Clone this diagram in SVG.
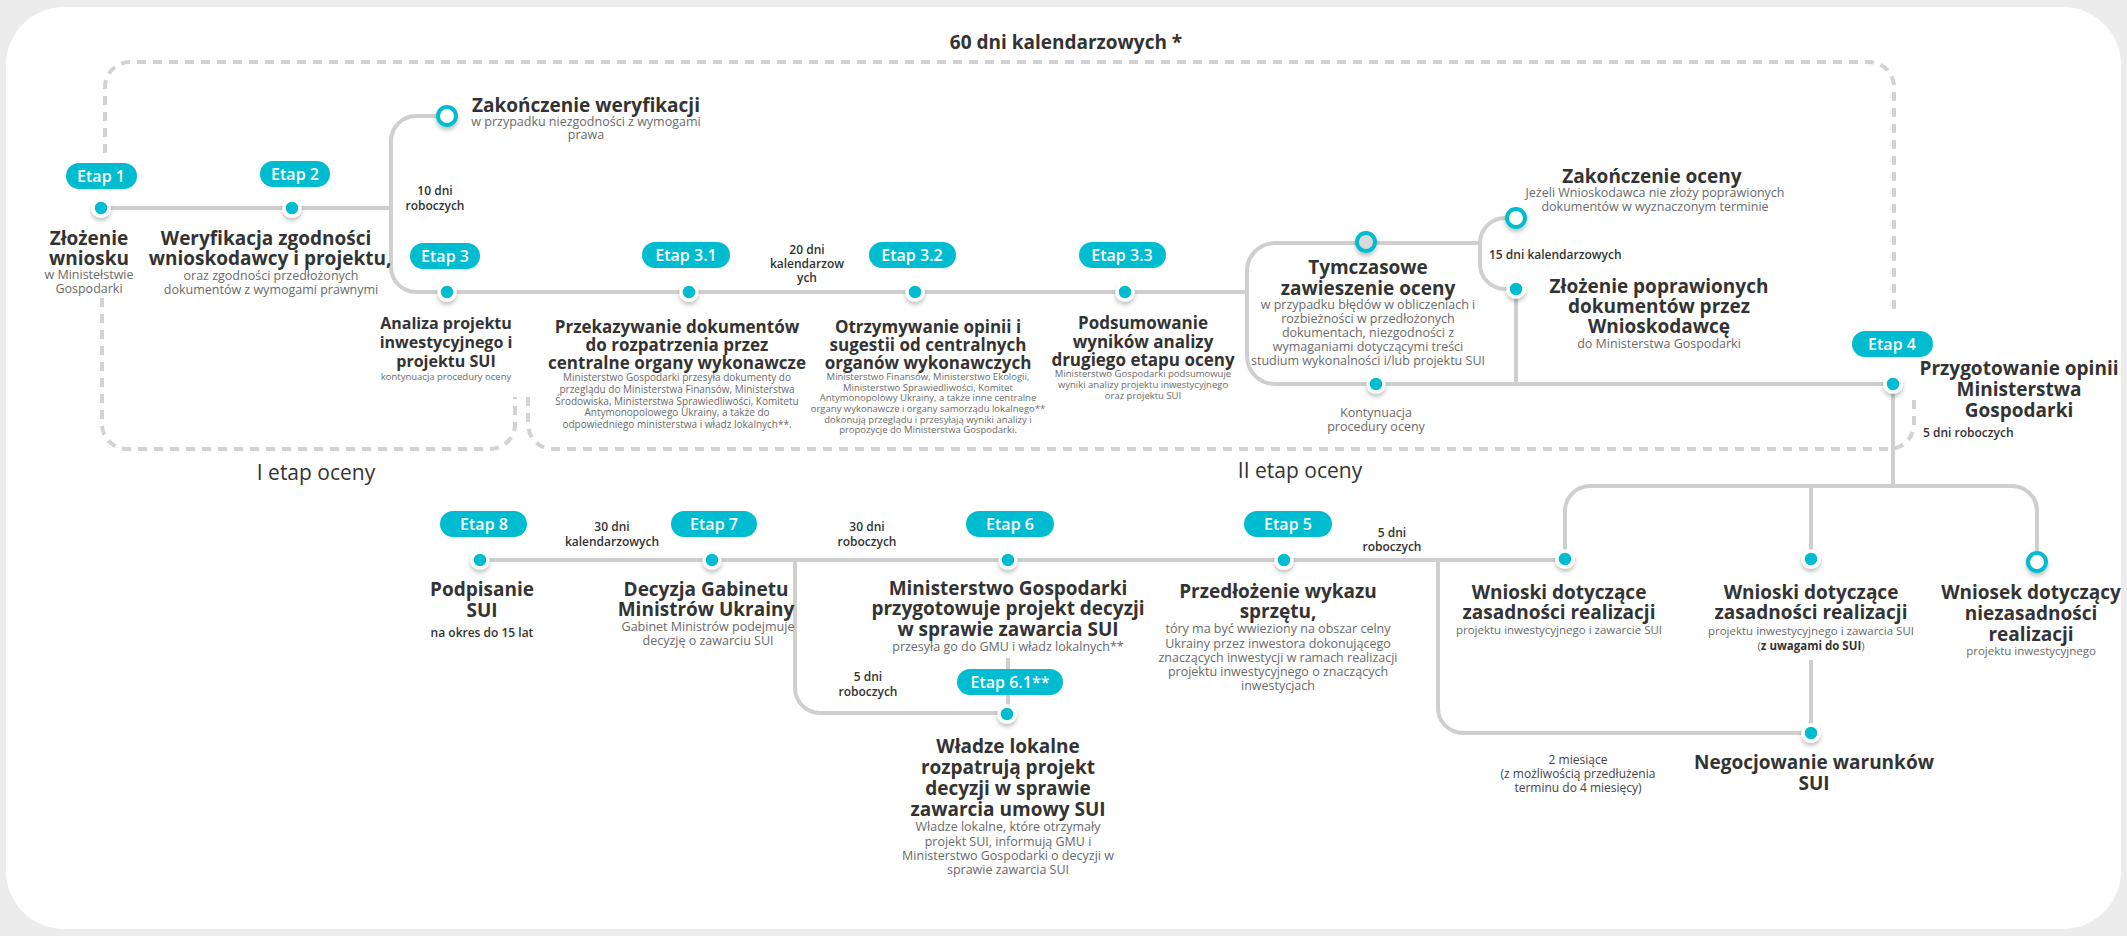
<svg xmlns="http://www.w3.org/2000/svg" width="2127" height="936" viewBox="0 0 2127 936">
<defs>
<filter id="sh" x="-60%" y="-60%" width="220%" height="240%">
<feDropShadow dx="0" dy="3" stdDeviation="2" flood-color="#000" flood-opacity="0.25"/>
</filter>
<style>
text{font-family:"Open Sans","Noto Sans",sans-serif;text-anchor:middle}
.t{font-size:19px;font-weight:700;fill:#333}
.t3{font-size:17px;font-weight:700;fill:#333}
.d{font-size:12.5px;font-weight:400;fill:#6a6a6a}
.d2{font-size:11.5px;font-weight:400;fill:#6a6a6a}
.ds{font-size:10px;font-weight:400;fill:#6a6a6a}
.ds9{font-size:9.5px;font-weight:400;fill:#6a6a6a}
.n{font-size:12px;font-weight:600;fill:#333}
.m{font-size:12px;font-weight:400;fill:#444}
.h{font-size:21px;font-weight:500;fill:#333}
.bt{font-size:16px;font-weight:600;fill:#fff}
.bg{fill:#00bcd0}
.dot{fill:#00bcd0;stroke:#fff;stroke-width:3.5;filter:url(#sh)}
.ho{fill:#fff;stroke:#00bcd0;stroke-width:4;filter:url(#sh)}
.gr{fill:#d9d9d9;stroke:#00bcd0;stroke-width:4;filter:url(#sh)}
.ln{fill:none;stroke:#cfcfcf;stroke-width:4}
.da{fill:none;stroke:#d2d2d2;stroke-width:4;stroke-dasharray:9 7}
</style>
</defs>
<rect x="0" y="0" width="2127" height="936" fill="#ececec"/>
<rect x="6" y="7" width="2115" height="922" rx="58" fill="#fff"/>

<g id="connectors">
<path class="da" d="M105,153 V87 A25,25 0 0 1 130,62 H1869 A25,25 0 0 1 1894,87 V315"/>
<path class="da" d="M102,298 V424 A25,25 0 0 0 127,449 H490 A25,25 0 0 0 515,424 V397"/>
<path class="da" d="M528,397 V424 A25,25 0 0 0 553,449 H1889 A25,25 0 0 0 1914,424 V397"/>
<path class="ln" d="M101,208 H391"/>
<path class="ln" d="M447,116 H416 A25,25 0 0 0 391,141 V267 A25,25 0 0 0 416,292 H1247"/>
<path class="ln" d="M1480,243 H1275 A28,28 0 0 0 1247,271 V356 A28,28 0 0 0 1275,384 H1893"/>
<path class="ln" d="M1516,218 H1505 A25,25 0 0 0 1480,243 V264 A25,25 0 0 0 1505,289 H1516"/>
<path class="ln" d="M1516,289 V384"/>
<path class="ln" d="M1893,384 V486"/>
<path class="ln" d="M1565,559 V511 A25,25 0 0 1 1590,486 H2012 A25,25 0 0 1 2037,511 V560"/>
<path class="ln" d="M1811,486 V559"/>
<path class="ln" d="M1811,660 V733"/>
<path class="ln" d="M1438,560 V708 A25,25 0 0 0 1463,733 H1811"/>
<path class="ln" d="M480,560 H1565"/>
<path class="ln" d="M795,560 V688 A25,25 0 0 0 820,713 H1007"/>
<path class="ln" d="M1008,658 V713"/>
</g>

<g id="labels">
<text class="t" x="1066" y="49">60 dni kalendarzowych *</text>
<text class="h" x="316" y="480">I etap oceny</text>
<text class="h" x="1300" y="478">II etap oceny</text>
<text class="n"><tspan x="435" y="195">10 dni</tspan><tspan x="435" y="210">roboczych</tspan></text>
<text class="n"><tspan x="807" y="254">20 dni</tspan><tspan x="807" y="268">kalendarzow</tspan><tspan x="807" y="282">ych</tspan></text>
<text class="n" x="1489" y="259" style="text-anchor:start">15 dni kalendarzowych</text>
<text class="n" x="1923" y="437" style="text-anchor:start">5  dni roboczych</text>
<text class="n"><tspan x="1392" y="537">5  dni</tspan><tspan x="1392" y="551">roboczych</tspan></text>
<text class="n"><tspan x="867" y="531">30  dni</tspan><tspan x="867" y="546">roboczych</tspan></text>
<text class="n"><tspan x="612" y="531">30  dni</tspan><tspan x="612" y="546">kalendarzowych</tspan></text>
<text class="n"><tspan x="868" y="681">5  dni</tspan><tspan x="868" y="696">roboczych</tspan></text>
<text class="m"><tspan x="1578" y="764">2 miesiące</tspan><tspan x="1578" y="778">(z możliwością przedłużenia</tspan><tspan x="1578" y="792">terminu do 4 miesięcy)</tspan></text>
</g>

<g id="etap1">
<rect class="bg" x="66" y="163" width="71" height="26" rx="13"/>
<text class="bt" x="101" y="182">Etap 1</text>
<circle class="dot" cx="101" cy="208" r="8"/>
<text class="t"><tspan x="89" y="245">Złożenie</tspan><tspan x="89" y="265">wniosku</tspan><tspan class="d" x="89" y="279">w Ministełstwie</tspan><tspan class="d" x="89" y="293">Gospodarki</tspan></text>
</g>

<g id="etap2">
<rect class="bg" x="260" y="161" width="70" height="26" rx="13"/>
<text class="bt" x="295" y="180">Etap 2</text>
<circle class="dot" cx="292" cy="208" r="8"/>
<text class="t"><tspan x="266" y="245">Weryfikacja zgodności</tspan><tspan x="270" y="265">wnioskodawcy i projektu,</tspan><tspan class="d" x="271" y="280">oraz zgodności przedłożonych</tspan><tspan class="d" x="271" y="294">dokumentów z wymogami prawnymi</tspan></text>
</g>

<g id="zakonczenie-weryfikacji">
<circle class="ho" cx="447" cy="116" r="9"/>
<text class="t"><tspan x="586" y="112">Zakończenie weryfikacji</tspan><tspan class="d" x="586" y="126">w przypadku niezgodności z wymogami</tspan><tspan class="d" x="586" y="139">prawa</tspan></text>
</g>

<g id="etap3">
<rect class="bg" x="410" y="243" width="70" height="26" rx="13"/>
<text class="bt" x="445" y="262">Etap 3</text>
<circle class="dot" cx="447" cy="292" r="8"/>
<text class="t3" style="font-size:16px"><tspan x="446" y="329">Analiza projektu</tspan><tspan x="446" y="348">inwestycyjnego i</tspan><tspan x="446" y="367">projektu SUI</tspan><tspan class="ds9" x="446" y="380">kontynuacja procedury oceny</tspan></text>
</g>

<g id="etap3-1">
<rect class="bg" x="642" y="242" width="88" height="26" rx="13"/>
<text class="bt" x="686" y="261">Etap 3.1</text>
<circle class="dot" cx="689" cy="292" r="8"/>
<text class="t3"><tspan x="677" y="333">Przekazywanie dokumentów</tspan><tspan x="677" y="351">do rozpatrzenia przez</tspan><tspan x="677" y="369">centralne organy wykonawcze</tspan><tspan class="ds" x="677" y="381">Ministerstwo Gospodarki przesyła dokumenty do</tspan><tspan class="ds" x="677" y="393">przeglądu do Ministerstwa Finansów, Ministerstwa</tspan><tspan class="ds" x="677" y="405">Środowiska, Ministerstwa Sprawiedliwości, Komitetu</tspan><tspan class="ds" x="677" y="416">Antymonopolowego Ukrainy, a także do</tspan><tspan class="ds" x="677" y="428">odpowiedniego ministerstwa i władz lokalnych**.</tspan></text>
</g>

<g id="etap3-2">
<rect class="bg" x="869" y="242" width="87" height="26" rx="13"/>
<text class="bt" x="912" y="261">Etap 3.2</text>
<circle class="dot" cx="915" cy="292" r="8"/>
<text class="t3"><tspan x="928" y="333">Otrzymywanie opinii i</tspan><tspan x="928" y="351">sugestii od centralnych</tspan><tspan x="928" y="369">organów wykonawczych</tspan><tspan class="ds9" x="928" y="380">Ministerstwo Finansów, Ministerstwo Ekologii,</tspan><tspan class="ds9" x="928" y="391">Ministerstwo Sprawiedliwości, Komitet</tspan><tspan class="ds9" x="928" y="401">Antymonopolowy Ukrainy, a także inne centralne</tspan><tspan class="ds9" x="928" y="412">organy wykonawcze i organy samorządu lokalnego**</tspan><tspan class="ds9" x="928" y="423">dokonują przeglądu i przesyłają wyniki analizy i</tspan><tspan class="ds9" x="928" y="433">propozycje do Ministerstwa Gospodarki.</tspan></text>
</g>

<g id="etap3-3">
<rect class="bg" x="1079" y="242" width="87" height="26" rx="13"/>
<text class="bt" x="1122" y="261">Etap 3.3</text>
<circle class="dot" cx="1125" cy="292" r="8"/>
<text class="t3"><tspan x="1143" y="329">Podsumowanie</tspan><tspan x="1143" y="348">wyników analizy</tspan><tspan x="1143" y="366">drugiego etapu oceny</tspan><tspan class="ds9" x="1143" y="377">Ministerstwo Gospodarki podsumowuje</tspan><tspan class="ds9" x="1143" y="388">wyniki analizy projektu inwestycyjnego</tspan><tspan class="ds9" x="1143" y="399">oraz projektu SUI</tspan></text>
</g>

<g id="tymczasowe-zawieszenie">
<circle class="gr" cx="1366" cy="242" r="9"/>
<circle class="dot" cx="1376" cy="384" r="8"/>
<text class="t"><tspan x="1368" y="274">Tymczasowe</tspan><tspan x="1368" y="295">zawieszenie oceny</tspan><tspan class="d" x="1368" y="309">w przypadku błędów w obliczeniach i</tspan><tspan class="d" x="1368" y="323">rozbieżności w przedłożonych</tspan><tspan class="d" x="1368" y="337">dokumentach, niezgodności z</tspan><tspan class="d" x="1368" y="351">wymaganiami dotyczącymi treści</tspan><tspan class="d" x="1368" y="365">studium wykonalności i/lub projektu SUI</tspan></text>
<text class="d"><tspan x="1376" y="417">Kontynuacja</tspan><tspan x="1376" y="431">procedury oceny</tspan></text>
</g>

<g id="zakonczenie-oceny">
<circle class="ho" cx="1516" cy="218" r="9"/>
<text class="t"><tspan x="1652" y="183">Zakończenie oceny</tspan><tspan class="d" x="1655" y="197">Jeżeli Wnioskodawca nie złoży poprawionych</tspan><tspan class="d" x="1655" y="211">dokumentów w wyznaczonym terminie</tspan></text>
</g>

<g id="zlozenie-poprawionych">
<circle class="dot" cx="1516" cy="289" r="8"/>
<text class="t"><tspan x="1659" y="293">Złożenie poprawionych</tspan><tspan x="1659" y="313">dokumentów przez</tspan><tspan x="1659" y="333">Wnioskodawcę</tspan><tspan class="d" x="1659" y="348">do Ministerstwa Gospodarki</tspan></text>
</g>

<g id="etap4">
<rect class="bg" x="1852" y="331" width="81" height="26" rx="13"/>
<text class="bt" x="1892" y="350">Etap 4</text>
<circle class="dot" cx="1893" cy="384" r="8"/>
<text class="t"><tspan x="2019" y="375">Przygotowanie opinii</tspan><tspan x="2019" y="396">Ministerstwa</tspan><tspan x="2019" y="417">Gospodarki</tspan></text>
</g>

<g id="wnioski-zasadnosci">
<circle class="dot" cx="1565" cy="559" r="8"/>
<text class="t"><tspan x="1559" y="599">Wnioski dotyczące</tspan><tspan x="1559" y="619">zasadności realizacji</tspan><tspan class="d2" x="1559" y="634">projektu inwestycyjnego i zawarcie SUI</tspan></text>
</g>

<g id="wnioski-z-uwagami">
<circle class="dot" cx="1811" cy="559" r="8"/>
<text class="t"><tspan x="1811" y="599">Wnioski dotyczące</tspan><tspan x="1811" y="619">zasadności realizacji</tspan><tspan class="d2" x="1811" y="635">projektu inwestycyjnego i zawarcia SUI</tspan><tspan class="d2" x="1811" y="650">(<tspan style="font-weight:700;fill:#333">z uwagami do SUI</tspan>)</tspan></text>
</g>

<g id="wniosek-niezasadnosci">
<circle class="ho" cx="2037" cy="562" r="9"/>
<text class="t"><tspan x="2031" y="599">Wniosek dotyczący</tspan><tspan x="2031" y="620">niezasadności</tspan><tspan x="2031" y="641">realizacji</tspan><tspan class="d2" x="2031" y="655">projektu inwestycyjnego</tspan></text>
</g>

<g id="negocjowanie">
<circle class="dot" cx="1811" cy="733" r="8"/>
<text class="t"><tspan x="1814" y="769">Negocjowanie warunków</tspan><tspan x="1814" y="790">SUI</tspan></text>
</g>

<g id="etap5">
<rect class="bg" x="1244" y="511" width="88" height="26" rx="13"/>
<text class="bt" x="1288" y="530">Etap 5</text>
<circle class="dot" cx="1284" cy="560" r="8"/>
<text class="t"><tspan x="1278" y="598">Przedłożenie wykazu</tspan><tspan x="1278" y="618">sprzętu,</tspan><tspan class="d" x="1278" y="633">tóry ma być wwieziony na obszar celny</tspan><tspan class="d" x="1278" y="648">Ukrainy przez inwestora dokonującego</tspan><tspan class="d" x="1278" y="662">znaczących inwestycji w ramach realizacji</tspan><tspan class="d" x="1278" y="676">projektu inwestycyjnego o znaczących</tspan><tspan class="d" x="1278" y="690">inwestycjach</tspan></text>
</g>

<g id="etap6">
<rect class="bg" x="966" y="511" width="88" height="26" rx="13"/>
<text class="bt" x="1010" y="530">Etap 6</text>
<circle class="dot" cx="1008" cy="560" r="8"/>
<text class="t"><tspan x="1008" y="595">Ministerstwo Gospodarki</tspan><tspan x="1008" y="615">przygotowuje projekt decyzji</tspan><tspan x="1008" y="636">w sprawie zawarcia SUI</tspan><tspan class="d" x="1008" y="651">przesyła go do GMU i władz lokalnych**</tspan></text>
</g>

<g id="etap6-1">
<rect class="bg" x="957" y="669" width="106" height="26" rx="13"/>
<text class="bt" x="1010" y="688">Etap 6.1**</text>
<circle class="dot" cx="1007" cy="714" r="8"/>
<text class="t"><tspan x="1008" y="753">Władze lokalne</tspan><tspan x="1008" y="774">rozpatrują projekt</tspan><tspan x="1008" y="795">decyzji w sprawie</tspan><tspan x="1008" y="816">zawarcia umowy SUI</tspan><tspan class="d" x="1008" y="831">Władze lokalne, które otrzymały</tspan><tspan class="d" x="1008" y="846">projekt SUI, informują GMU i</tspan><tspan class="d" x="1008" y="860">Ministerstwo Gospodarki o decyzji w</tspan><tspan class="d" x="1008" y="874">sprawie zawarcia SUI</tspan></text>
</g>

<g id="etap7">
<rect class="bg" x="671" y="511" width="86" height="26" rx="13"/>
<text class="bt" x="714" y="530">Etap 7</text>
<circle class="dot" cx="712" cy="560" r="8"/>
<text class="t"><tspan x="706" y="596">Decyzja Gabinetu</tspan><tspan x="706" y="616">Ministrów Ukrainy</tspan><tspan class="d" x="708" y="631">Gabinet Ministrów podejmuje</tspan><tspan class="d" x="708" y="645">decyzję o zawarciu SUI</tspan></text>
</g>

<g id="etap8">
<rect class="bg" x="440" y="511" width="87" height="26" rx="13"/>
<text class="bt" x="484" y="530">Etap 8</text>
<circle class="dot" cx="480" cy="560" r="8"/>
<text class="t"><tspan x="482" y="596">Podpisanie</tspan><tspan x="482" y="617">SUI</tspan><tspan class="n" x="482" y="637">na okres do 15 lat</tspan></text>
</g>
</svg>
